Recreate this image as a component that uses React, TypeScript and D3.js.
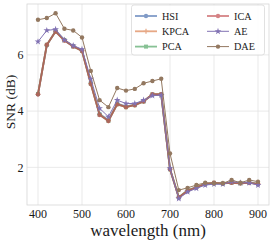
// SNR vs wavelength line chart, seaborn-like style

import { useEffect, useRef } from "react";
import * as d3 from "d3";

const wavelengths = [400, 420, 440, 460, 480, 500, 520, 540, 560, 580, 600, 620, 640, 660, 680, 700, 720, 740, 760, 780, 800, 820, 840, 860, 880, 900];

const hsi = [4.6, 6.34, 6.85, 6.53, 6.32, 6.16, 5.0, 3.9, 3.68, 4.27, 4.17, 4.23, 4.36, 4.57, 4.58, 1.95, 0.92, 1.16, 1.28, 1.4, 1.43, 1.42, 1.47, 1.44, 1.46, 1.4];
const kpca = [4.6, 6.35, 6.84, 6.52, 6.31, 6.15, 4.98, 3.88, 3.66, 4.25, 4.15, 4.22, 4.35, 4.59, 4.59, 1.94, 0.93, 1.17, 1.29, 1.41, 1.44, 1.43, 1.46, 1.43, 1.45, 1.41];
const pca = [4.61, 6.36, 6.83, 6.52, 6.3, 6.14, 4.97, 3.87, 3.65, 4.24, 4.14, 4.21, 4.34, 4.6, 4.6, 1.93, 0.94, 1.18, 1.3, 1.41, 1.45, 1.43, 1.45, 1.43, 1.45, 1.42];
const ica = [4.6, 6.36, 6.83, 6.51, 6.3, 6.14, 4.96, 3.86, 3.65, 4.24, 4.14, 4.21, 4.34, 4.6, 4.6, 1.93, 0.93, 1.17, 1.29, 1.41, 1.45, 1.43, 1.45, 1.43, 1.45, 1.41];
const ae = [6.47, 6.87, 6.91, 6.53, 6.33, 6.2, 5.15, 4.1, 3.8, 4.39, 4.27, 4.27, 4.39, 4.55, 4.57, 1.96, 0.89, 1.13, 1.25, 1.37, 1.4, 1.4, 1.49, 1.45, 1.45, 1.37];
const dae = [7.25, 7.31, 7.48, 6.93, 6.87, 6.62, 5.43, 4.39, 4.14, 4.82, 4.73, 4.79, 4.99, 5.07, 5.15, 2.49, 1.19, 1.27, 1.37, 1.45, 1.43, 1.43, 1.55, 1.45, 1.55, 1.49];

const xTicks = [400, 500, 600, 700, 800, 900];
const yTicks = [2, 4, 6];

const seriesNames = ["HSI", "KPCA", "PCA", "ICA", "AE", "DAE"];
const seriesValues = [hsi, kpca, pca, ica, ae, dae];
const seriesColors = ["#4c72b0", "#dd8452", "#55a868", "#c44e52", "#8172b3", "#937860"];
const seriesMarkers = ["circle", "plus", "square", "circle", "star", "circle"];
const seriesThick = [true, true, true, true, false, false];

const FONT = "'Liberation Serif', 'DejaVu Serif', serif";

export default function App() {
  const svgRef = useRef<SVGSVGElement>(null);
  const width = 274;
  const height = 244;

  useEffect(() => {
    if (!svgRef.current) return;
    const svg = d3.select(svgRef.current);
    svg.selectAll("*").remove();

    const left = 27, right = 269, top = 4, bottom = 205;

    const x = d3.scaleLinear().domain([375, 925]).range([left, right]);
    const y = d3.scaleLinear().domain([0.66, 7.81]).range([bottom, top]);

    // grid
    svg.append("g")
      .selectAll("line")
      .data(xTicks)
      .join("line")
      .attr("x1", (d) => x(d)).attr("x2", (d) => x(d))
      .attr("y1", top).attr("y2", bottom)
      .attr("stroke", "#e3e3e3").attr("stroke-width", 0.8);
    svg.append("g")
      .selectAll("line")
      .data(yTicks)
      .join("line")
      .attr("x1", left).attr("x2", right)
      .attr("y1", (d) => y(d)).attr("y2", (d) => y(d))
      .attr("stroke", "#e3e3e3").attr("stroke-width", 0.8);

    // frame
    svg.append("rect")
      .attr("x", left).attr("y", top)
      .attr("width", right - left).attr("height", bottom - top)
      .attr("fill", "none").attr("stroke", "#d6d6d6").attr("stroke-width", 0.8);

    // tick labels
    svg.append("g")
      .selectAll("text")
      .data(xTicks)
      .join("text")
      .attr("x", (d) => x(d)).attr("y", 218)
      .attr("text-anchor", "middle")
      .attr("font-family", FONT).attr("font-size", 12).attr("fill", "#1a1a1a")
      .text((d) => d);
    svg.append("g")
      .selectAll("text")
      .data(yTicks)
      .join("text")
      .attr("x", 23.5).attr("y", (d) => y(d)).attr("dy", "0.35em")
      .attr("text-anchor", "end")
      .attr("font-family", FONT).attr("font-size", 12).attr("fill", "#1a1a1a")
      .text((d) => d);

    // axis labels
    svg.append("text")
      .attr("x", (left + right) / 2).attr("y", 236)
      .attr("text-anchor", "middle")
      .attr("font-family", FONT).attr("font-size", 17).attr("fill", "#1a1a1a")
      .text("wavelength (nm)");
    svg.append("text")
      .attr("transform", `translate(10, 102) rotate(-90)`)
      .attr("text-anchor", "middle").attr("dy", "0.35em")
      .attr("font-family", FONT).attr("font-size", 13.5).attr("fill", "#1a1a1a")
      .text("SNR (dB)");

    const star = d3.symbol().type(d3.symbolStar).size(14);
    const square = d3.symbol().type(d3.symbolSquare).size(16);

    const drawMarker = (g: d3.Selection<SVGGElement, unknown, null, undefined>, kind: string, cx: number, cy: number, color: string) => {
      if (kind === "circle") {
        g.append("circle").attr("cx", cx).attr("cy", cy).attr("r", 2.2).attr("fill", color);
      } else if (kind === "square") {
        g.append("path").attr("d", square()).attr("transform", `translate(${cx},${cy})`).attr("fill", color);
      } else if (kind === "star") {
        g.append("path").attr("d", star()).attr("transform", `translate(${cx},${cy})`).attr("fill", color);
      } else {
        g.append("path")
          .attr("d", `M${cx - 2.5},${cy}H${cx + 2.5}M${cx},${cy - 2.5}V${cy + 2.5}`)
          .attr("stroke", color).attr("stroke-width", 1.2);
      }
    };

    const line = d3.line<number>().x((_, i) => x(wavelengths[i])).y((d) => y(d));

    seriesValues.forEach((vals, si) => {
      const color = seriesColors[si];
      const g = svg.append("g").attr("opacity", seriesThick[si] ? 0.7 : 1);
      g.append("path")
        .datum(vals)
        .attr("d", line)
        .attr("fill", "none")
        .attr("stroke", color)
        .attr("stroke-width", seriesThick[si] ? 1.8 : 1);
      vals.forEach((v, i) => drawMarker(g, seriesMarkers[si], x(wavelengths[i]), y(v), color));
    });

    // legend
    const lg = svg.append("g");
    lg.append("rect")
      .attr("x", 131.5).attr("y", 5).attr("width", 133).attr("height", 50)
      .attr("rx", 2.5)
      .attr("fill", "white").attr("fill-opacity", 0.85)
      .attr("stroke", "#d9d9d9").attr("stroke-width", 0.8);
    seriesNames.forEach((name, i) => {
      const col = Math.floor(i / 3);
      const row = i % 3;
      const x0 = col === 0 ? 135 : 207;
      const yy = 16 + row * 15.3;
      const color = seriesColors[i];
      const g = lg.append("g").attr("opacity", seriesThick[i] ? 0.7 : 1);
      g.append("line")
        .attr("x1", x0).attr("x2", x0 + 22)
        .attr("y1", yy).attr("y2", yy)
        .attr("stroke", color).attr("stroke-width", seriesThick[i] ? 1.8 : 1);
      drawMarker(g, seriesMarkers[i], x0 + 11, yy, color);
      lg.append("text")
        .attr("x", x0 + 27).attr("y", yy).attr("dy", "0.35em")
        .attr("font-family", FONT).attr("font-size", 10.2).attr("fill", "#1a1a1a")
        .text(name);
    });
  }, []);

  return (
    <svg
      ref={svgRef}
      width={width}
      height={height}
      style={{ position: "absolute", left: 0, top: 0, background: "white" }}
    />
  );
}
